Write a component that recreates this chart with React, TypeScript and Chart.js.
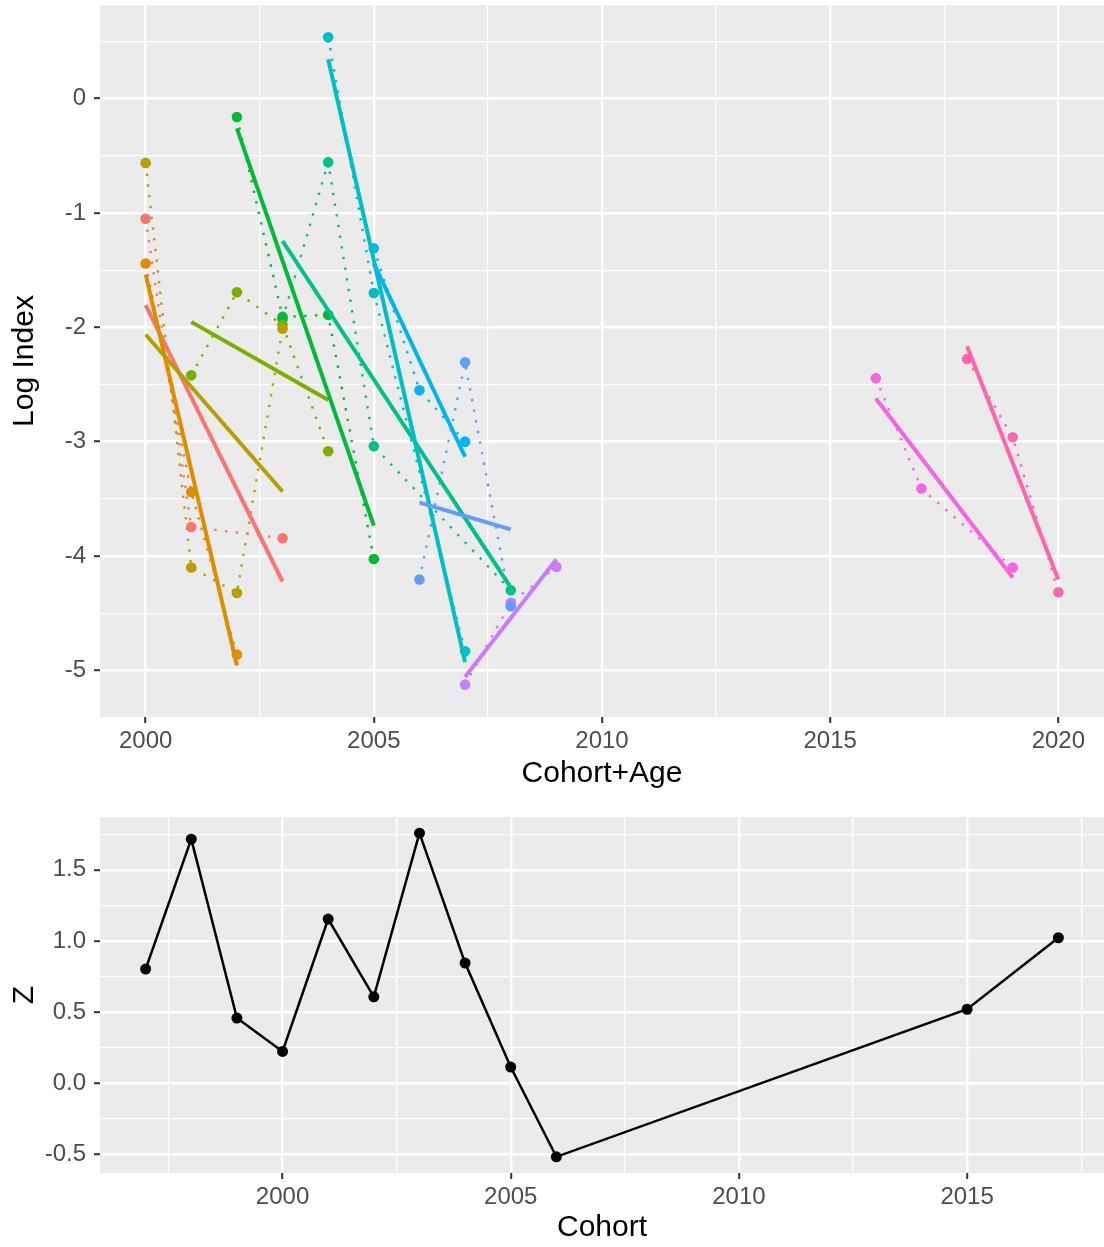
import React, { useEffect, useRef } from 'react';
import { Chart, registerables } from 'chart.js';

Chart.register(...registerables);

// ---- data ----
const cohorts = [1997, 1998, 1999, 2000, 2001, 2002, 2003, 2004, 2005, 2006, 2015, 2017];
const cohortColors = [
  '#F8766D', '#DE8C00', '#B79F00', '#7CAE00', '#00BA38', '#00C08B',
  '#00BFC4', '#00B4F0', '#619CFF', '#C77CFF', '#F564E3', '#FF64B0',
];
// Cohort+Age (survey year) observed for each cohort
const cohortAgeYears: number[][] = [
  [2000, 2001, 2003],
  [2000, 2001, 2002],
  [2000, 2001, 2002, 2003],
  [2001, 2002, 2003, 2004],
  [2002, 2003, 2004, 2005],
  [2003, 2004, 2005, 2008],
  [2004, 2005, 2007],
  [2005, 2006, 2007],
  [2006, 2007, 2008],
  [2007, 2008, 2009],
  [2016, 2017, 2019],
  [2018, 2019, 2020],
];
// log survey index for each cohort, same order as cohortAgeYears
const logIndex: number[][] = [
  [-1.05, -3.746, -3.845],
  [-1.442, -3.44, -4.862],
  [-0.562, -4.1, -4.323, -2.013],
  [-2.42, -1.693, -1.98, -3.084],
  [-0.16, -1.909, -1.891, -4.026],
  [-1.93, -0.557, -3.04, -4.3],
  [0.536, -1.7, -4.833],
  [-1.309, -2.55, -3.0],
  [-4.206, -2.306, -4.44],
  [-5.125, -4.41, -4.096],
  [-2.446, -3.41, -4.1],
  [-2.277, -2.962, -4.317],
];
// total mortality by cohort
const zValues = [0.803, 1.715, 0.459, 0.225, 1.154, 0.608, 1.757, 0.845, 0.115, -0.515, 0.521, 1.023];

const topXTicks = [2000, 2005, 2010, 2015, 2020];
const topXLabels = ['2000', '2005', '2010', '2015', '2020'];
const topYTicks = [-5, -4, -3, -2, -1, 0];
const topYLabels = ['-5', '-4', '-3', '-2', '-1', '0'];
const bottomXTicks = [2000, 2005, 2010, 2015];
const bottomXLabels = ['2000', '2005', '2010', '2015'];
const bottomYTicks = [-0.5, 0, 0.5, 1, 1.5];
const bottomYLabels = ['-0.5', '0.0', '0.5', '1.0', '1.5'];

// ---- helpers ----
const FONT = '"Liberation Sans", Arial, Helvetica, sans-serif';

function fitLine(xs: number[], ys: number[]) {
  const n = xs.length;
  const mx = xs.reduce((a, b) => a + b, 0) / n;
  const my = ys.reduce((a, b) => a + b, 0) / n;
  let sxy = 0;
  let sxx = 0;
  for (let i = 0; i < n; i++) {
    sxy += (xs[i] - mx) * (ys[i] - my);
    sxx += (xs[i] - mx) * (xs[i] - mx);
  }
  const slope = sxy / sxx;
  return { slope, intercept: my - slope * mx };
}

function expandRange(values: number[]) {
  const lo = Math.min(...values);
  const hi = Math.max(...values);
  const pad = (hi - lo) * 0.05;
  return { min: lo - pad, max: hi + pad };
}

// major ticks plus the minor ticks halfway between them
function withMinor(majors: number[], min: number, max: number) {
  const half = (majors[1] - majors[0]) / 2;
  const out: number[] = [];
  for (let v = majors[0] - half; v <= majors[majors.length - 1] + half + 1e-9; v += half) {
    const r = Math.round(v * 1000) / 1000;
    if (r >= min - 1e-9 && r <= max + 1e-9) out.push(r);
  }
  return out;
}

const panelBackground = {
  id: 'panelBackground',
  beforeDraw(chart: any) {
    const { ctx, chartArea } = chart;
    ctx.save();
    ctx.fillStyle = '#EBEBEB';
    ctx.fillRect(chartArea.left, chartArea.top, chartArea.right - chartArea.left, chartArea.bottom - chartArea.top);
    ctx.restore();
  },
};

function axis(opts: {
  min: number;
  max: number;
  majors: number[];
  labels: string[];
  title: string;
  horizontal: boolean;
  size: number;
  titlePad: any;
}) {
  const { min, max, majors, labels, title, horizontal, size, titlePad } = opts;
  const all = withMinor(majors, min, max);
  const isMajor = (v: number) => majors.some((m) => Math.abs(m - v) < 1e-6);
  return {
    type: 'linear',
    min,
    max,
    afterBuildTicks: (scale: any) => {
      scale.ticks = all.map((v) => ({ value: v }));
    },
    afterFit: (scale: any) => {
      if (horizontal) scale.height = size;
      else scale.width = size;
      scale.paddingTop = 0;
      scale.paddingBottom = 0;
      scale.paddingLeft = 0;
      scale.paddingRight = 0;
    },
    border: { display: false },
    grid: {
      color: '#FFFFFF',
      lineWidth: (c: any) => (c.tick && isMajor(c.tick.value) ? 2.4 : 1.2),
      drawTicks: true,
      tickLength: 6,
      tickWidth: 2,
      tickColor: (c: any) => (c.tick && isMajor(c.tick.value) ? '#333333' : 'rgba(0,0,0,0)'),
    },
    ticks: {
      autoSkip: false,
      maxRotation: 0,
      minRotation: 0,
      padding: horizontal ? 3.5 : 8,
      color: '#4D4D4D',
      font: { family: FONT, size: 24 },
      callback: (value: number) => {
        const idx = majors.findIndex((m) => Math.abs(m - value) < 1e-6);
        return idx >= 0 ? labels[idx] : '';
      },
    },
    title: {
      display: true,
      text: title,
      color: '#000000',
      font: { family: FONT, size: 30 },
      padding: titlePad,
    },
  };
}

function TopPanel() {
  const ref = useRef<HTMLCanvasElement | null>(null);
  useEffect(() => {
    if (!ref.current) return;
    const fits = cohortAgeYears.map((xs, i) => fitLine(xs, logIndex[i]));
    const fitEnds = cohortAgeYears.map((xs, i) => {
      const x0 = xs[0];
      const x1 = xs[xs.length - 1];
      return [
        { x: x0, y: fits[i].intercept + fits[i].slope * x0 },
        { x: x1, y: fits[i].intercept + fits[i].slope * x1 },
      ];
    });
    const allX = cohortAgeYears.flat();
    const allY = logIndex.flat().concat(fitEnds.flat().map((p) => p.y));
    const xr = expandRange(allX);
    const yr = expandRange(allY);

    const datasets: any[] = [];
    cohorts.forEach((c, i) => {
      const col = cohortColors[i];
      datasets.push({
        label: `${c}`,
        data: cohortAgeYears[i].map((x, j) => ({ x, y: logIndex[i][j] })),
        borderColor: col,
        backgroundColor: col,
        borderWidth: 2.4,
        borderDash: [2.4, 8.4],
        pointRadius: 5.3,
        pointBorderWidth: 0,
        pointBackgroundColor: col,
        tension: 0,
        order: 100 + i,
      });
      datasets.push({
        label: `${c} fit`,
        data: fitEnds[i],
        borderColor: col,
        borderWidth: 4,
        pointRadius: 0,
        tension: 0,
        order: 50 - i,
      });
    });

    const chart = new Chart(ref.current, {
      type: 'line',
      data: { datasets },
      plugins: [panelBackground],
      options: {
        responsive: false,
        animation: false,
        layout: { autoPadding: false, padding: { top: 5, left: 0, right: 0, bottom: 0 } },
        plugins: { legend: { display: false }, tooltip: { enabled: false } },
        scales: {
          x: axis({
            min: xr.min, max: xr.max, majors: topXTicks, labels: topXLabels,
            title: 'Cohort+Age', horizontal: true, size: 83, titlePad: { top: 0, bottom: 8 },
          }),
          y: axis({
            min: yr.min, max: yr.max, majors: topYTicks, labels: topYLabels,
            title: 'Log Index', horizontal: false, size: 100, titlePad: { top: 7, bottom: 0 },
          }),
        } as any,
      },
    } as any);
    return () => chart.destroy();
  }, []);
  return <canvas ref={ref} width={1104} height={800} style={{ display: 'block' }} />;
}

function BottomPanel() {
  const ref = useRef<HTMLCanvasElement | null>(null);
  useEffect(() => {
    if (!ref.current) return;
    const xr = expandRange(cohorts);
    const yr = expandRange(zValues);
    const chart = new Chart(ref.current, {
      type: 'line',
      data: {
        datasets: [
          {
            label: 'Z',
            data: cohorts.map((c, i) => ({ x: c, y: zValues[i] })),
            borderColor: '#000000',
            backgroundColor: '#000000',
            borderWidth: 2.5,
            pointRadius: 5.5,
            pointBorderWidth: 0,
            pointBackgroundColor: '#000000',
            tension: 0,
          },
        ],
      },
      plugins: [panelBackground],
      options: {
        responsive: false,
        animation: false,
        layout: { autoPadding: false, padding: { top: 17, left: 0, right: 0, bottom: 0 } },
        plugins: { legend: { display: false }, tooltip: { enabled: false } },
        scales: {
          x: axis({
            min: xr.min, max: xr.max, majors: bottomXTicks, labels: bottomXLabels,
            title: 'Cohort', horizontal: true, size: 74, titlePad: { top: 0, bottom: 1 },
          }),
          y: axis({
            min: yr.min, max: yr.max, majors: bottomYTicks, labels: bottomYLabels,
            title: 'Z', horizontal: false, size: 100, titlePad: { top: 7, bottom: 0 },
          }),
        } as any,
      },
    } as any);
    return () => chart.destroy();
  }, []);
  return <canvas ref={ref} width={1104} height={447} style={{ display: 'block' }} />;
}

export default function App() {
  useEffect(() => {
    document.body.style.margin = '0';
    document.body.style.background = '#FFFFFF';
  }, []);
  return (
    <div style={{ width: 1104, height: 1247, background: '#FFFFFF' }}>
      <TopPanel />
      <BottomPanel />
    </div>
  );
}
